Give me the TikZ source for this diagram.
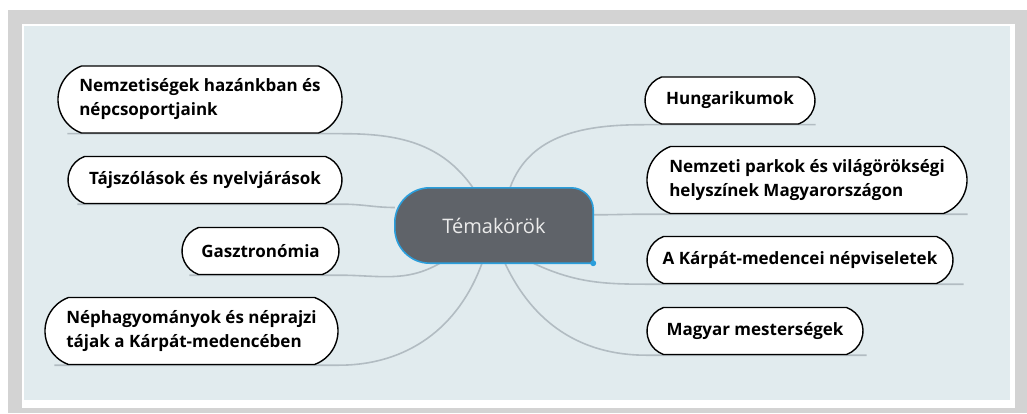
\documentclass[tikz,border=0pt]{standalone}
\usepackage{fontspec}
\setmainfont{Open Sans}
\usetikzlibrary{backgrounds,shapes.misc}

\definecolor{keret}{RGB}{211,211,211}
\definecolor{hatter}{RGB}{225,235,238}
\definecolor{kozep}{RGB}{95,99,105}
\definecolor{kek}{RGB}{43,158,219}
\definecolor{agszin}{RGB}{178,188,194}

\tikzset{
    tema/.style={draw, line width=1.4pt, fill=white, rounded rectangle,
        rounded rectangle arc length=140, minimum height=47pt, inner sep=0pt,
        align=left, font=\bfseries\fontsize{17}{24}\selectfont},
    tema2/.style={tema, minimum height=67pt},
    ag/.style={draw=agszin, line width=1.6pt},
}

\begin{document}
\begin{tikzpicture}[x=1pt,y=1pt]
    \useasboundingbox (0,0) rectangle (1027,413);
    \draw 
    (494,187.5)node(c)[minimum width=198pt, minimum height=75pt, text=white!92!black, font=\fontsize{20}{24}\selectfont]{Témakörök}
    (200,313.5)node(1)[tema2, minimum width=284pt]{Nemzetiségek hazánkban és\\népcsoportjaink}
    (205,233)node(2)[tema, minimum width=274pt]{Tájszólások és nyelvjárások}
    (260.5,162)node(3)[tema, minimum width=157pt]{Gasztronómia}
    (191.5,82)node(4)[tema2, minimum width=293pt]{Néphagyományok és néprajzi\\tájak a Kárpát-medencében}
    (730,312.5)node(5)[tema, minimum width=170pt]{Hungarikumok}
    (807,233)node(6)[tema2, minimum width=320pt]{Nemzeti parkok és világörökségi\\helyszínek Magyarországon}
    (800,153)node(7)[tema, minimum width=306pt]{A Kárpát-medencei népviseletek}
    (755,82)node(8)[tema, minimum width=216pt]{Magyar mesterségek};
    %
    \begin{scope}[on background layer]
    \fill[keret] (8,0) rectangle (1027,403);
    \fill[white] (22,5) rectangle (1015,389);
    \fill[hatter] (24,13) rectangle (1010,387);
    \end{scope}
    %
    \begin{scope}[on background layer]
    \draw[ag] ([xshift=-21pt]c.north) to[out=125,in=0] (1.south -| 1.east) -- ([xshift=10pt]1.south -| 1.west);
    \draw[ag] ([yshift=18pt]c.west) to[out=180,in=0] (2.south -| 2.east) -- ([xshift=10pt]2.south -| 2.west);
    \draw[ag] ([xshift=-54pt]c.south) to[out=210,in=0] (3.south -| 3.east) -- ([xshift=8pt]3.south -| 3.west);
    \draw[ag] ([xshift=-12pt]c.south) to[out=250,in=0] (4.south -| 4.east) -- ([xshift=10pt]4.south -| 4.west);
    \draw[ag] ([xshift=16pt]c.north) to[out=70,in=180] (5.south -| 5.west) -- (5.south -| 5.east);
    \draw[ag] ([yshift=-27pt]c.north east) to[out=0,in=180] (6.south -| 6.west) -- (6.south -| 6.east);
    \draw[ag] ([xshift=-60pt]c.south east) to[out=-25,in=180] (7.south -| 7.west) -- ([xshift=10pt]7.south -| 7.east);
    \draw[ag] ([xshift=11pt]c.south) to[out=-65,in=180] (8.south -| 8.west) -- ([xshift=3pt]8.south -| 8.east);
    %
    \filldraw[fill=kozep, draw=kek, line width=1.6pt] (c.south east) -- ([yshift=-22pt]c.north east)
        arc[start angle=0, end angle=90, radius=22pt] -- ([xshift=35pt]c.north west)
        arc[start angle=90, end angle=180, radius=35pt] -- ([yshift=35pt]c.south west)
        arc[start angle=180, end angle=270, radius=35pt] -- cycle;
    \fill[kek] (c.south east) circle[radius=3pt];
    \end{scope}
\end{tikzpicture}
\end{document}
